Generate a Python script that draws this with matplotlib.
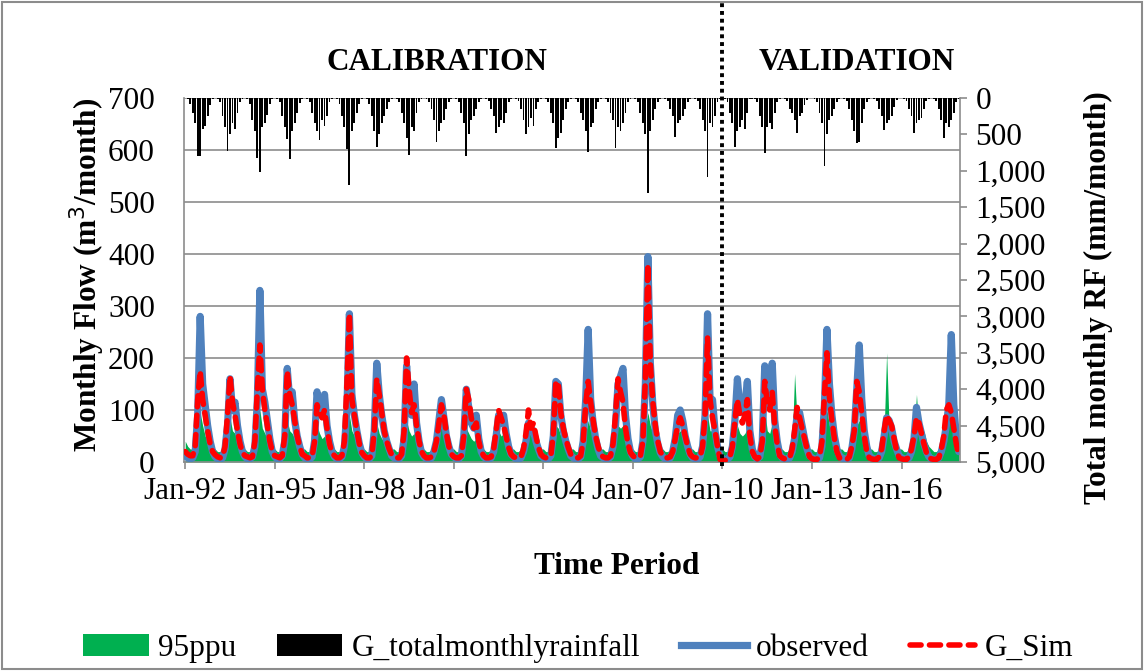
import numpy as np
import matplotlib.pyplot as plt
import matplotlib.transforms as mtransforms
from matplotlib.patches import Patch, Rectangle
from matplotlib.lines import Line2D

plt.rcParams['font.family'] = ['Liberation Serif', 'DejaVu Serif']

# ── data (Jan-92 .. Dec-17, one row per year, Jan..Dec) ─────────────────────
tick_labels = ["Jan-92", "Jan-95", "Jan-98", "Jan-01", "Jan-04",
               "Jan-07", "Jan-10", "Jan-13", "Jan-16"]

observed = [
    [12, 8, 6, 8, 20, 90, 280, 150, 110, 70, 40, 20],
    [10, 6, 5, 8, 25, 70, 160, 100, 115, 70, 40, 20],
    [10, 6, 6, 10, 30, 120, 330, 140, 115, 80, 45, 20],
    [10, 6, 6, 12, 40, 180, 120, 135, 80, 50, 30, 15],
    [8, 6, 5, 10, 40, 135, 100, 90, 130, 70, 40, 20],
    [10, 6, 6, 10, 30, 100, 285, 130, 90, 60, 35, 18],
    [10, 6, 6, 12, 60, 190, 130, 90, 60, 40, 25, 12],
    [8, 6, 6, 12, 45, 185, 110, 90, 150, 75, 40, 18],
    [10, 6, 5, 8, 20, 40, 80, 120, 85, 50, 30, 15],
    [10, 6, 6, 12, 50, 140, 105, 75, 65, 90, 45, 20],
    [10, 6, 5, 8, 20, 50, 90, 75, 90, 55, 30, 15],
    [10, 6, 5, 8, 20, 40, 75, 65, 60, 40, 25, 12],
    [8, 6, 6, 12, 50, 155, 150, 90, 60, 40, 25, 12],
    [8, 6, 6, 10, 40, 120, 255, 120, 75, 45, 25, 12],
    [8, 6, 6, 10, 30, 70, 150, 165, 180, 90, 45, 20],
    [10, 6, 6, 10, 40, 150, 395, 190, 110, 60, 35, 18],
    [10, 6, 5, 8, 20, 45, 90, 100, 80, 50, 30, 15],
    [8, 6, 5, 10, 30, 90, 285, 120, 120, 60, 30, 12],
    [6, 5, 5, 10, 30, 80, 160, 105, 95, 110, 155, 60],
    [25, 10, 6, 10, 40, 185, 120, 110, 190, 80, 40, 15],
    [8, 6, 5, 8, 20, 45, 90, 95, 70, 45, 25, 12],
    [8, 6, 5, 8, 30, 110, 255, 150, 90, 50, 25, 12],
    [8, 6, 5, 8, 25, 60, 140, 225, 120, 60, 30, 12],
    [8, 6, 5, 8, 20, 50, 85, 80, 65, 40, 25, 12],
    [8, 6, 5, 8, 20, 45, 105, 75, 55, 35, 20, 10],
    [6, 5, 5, 8, 20, 40, 70, 110, 245, 110, 50, 20],
]

g_sim = [
    [20, 15, 12, 12, 30, 120, 175, 120, 90, 60, 35, 20],
    [14, 10, 8, 10, 30, 90, 165, 115, 90, 60, 35, 18],
    [12, 10, 8, 10, 40, 140, 225, 140, 100, 70, 40, 20],
    [12, 10, 8, 12, 50, 175, 130, 110, 80, 50, 30, 15],
    [12, 8, 8, 10, 40, 110, 95, 85, 100, 65, 35, 18],
    [12, 8, 8, 12, 40, 150, 285, 120, 90, 60, 35, 18],
    [12, 8, 8, 12, 60, 160, 130, 95, 60, 40, 25, 14],
    [10, 8, 8, 15, 60, 200, 140, 95, 110, 70, 40, 20],
    [12, 8, 8, 10, 20, 40, 75, 110, 90, 55, 30, 15],
    [10, 8, 8, 12, 50, 140, 120, 85, 65, 75, 40, 20],
    [12, 8, 8, 10, 25, 60, 100, 85, 70, 50, 28, 15],
    [10, 8, 8, 10, 25, 55, 100, 65, 75, 50, 28, 15],
    [10, 8, 8, 12, 55, 155, 150, 95, 65, 45, 28, 15],
    [10, 8, 8, 12, 40, 110, 155, 115, 80, 50, 30, 15],
    [10, 8, 8, 12, 35, 90, 160, 135, 115, 65, 35, 18],
    [12, 8, 8, 12, 40, 160, 380, 190, 115, 70, 40, 20],
    [12, 8, 8, 10, 20, 45, 70, 85, 70, 50, 30, 15],
    [10, 8, 8, 10, 30, 90, 240, 120, 85, 60, 30, 5],
    [3, 3, 5, 10, 30, 80, 120, 90, 75, 90, 120, 50],
    [20, 10, 6, 10, 40, 155, 115, 100, 135, 70, 35, 12],
    [8, 6, 5, 8, 25, 60, 105, 85, 65, 45, 25, 10],
    [6, 5, 5, 10, 40, 130, 210, 125, 80, 45, 20, 8],
    [6, 5, 5, 10, 30, 60, 155, 135, 95, 50, 20, 8],
    [6, 5, 5, 10, 25, 60, 90, 80, 70, 45, 22, 8],
    [6, 5, 5, 10, 25, 50, 85, 75, 55, 35, 18, 8],
    [6, 5, 5, 8, 25, 50, 100, 110, 95, 65, 35, 12],
]

ppu_upper = [
    [40, 30, 25, 25, 30, 60, 95, 70, 50, 40, 35, 30],
    [25, 20, 20, 25, 35, 55, 85, 60, 55, 40, 30, 25],
    [25, 20, 20, 25, 40, 70, 100, 65, 55, 45, 35, 25],
    [25, 20, 20, 25, 40, 80, 60, 55, 45, 35, 30, 25],
    [25, 20, 20, 25, 35, 70, 55, 45, 50, 40, 30, 25],
    [25, 20, 20, 25, 35, 60, 90, 60, 50, 40, 30, 25],
    [25, 20, 20, 25, 40, 75, 55, 45, 40, 35, 30, 25],
    [25, 20, 20, 25, 40, 80, 60, 50, 55, 40, 30, 25],
    [25, 20, 20, 25, 30, 40, 55, 70, 50, 40, 30, 25],
    [25, 20, 20, 25, 35, 65, 55, 45, 40, 45, 30, 25],
    [25, 20, 20, 25, 30, 45, 60, 50, 55, 40, 30, 25],
    [25, 20, 20, 25, 30, 45, 60, 50, 50, 40, 30, 25],
    [25, 20, 20, 25, 40, 70, 65, 50, 45, 40, 30, 25],
    [25, 20, 20, 25, 35, 55, 80, 60, 50, 40, 30, 25],
    [25, 20, 20, 25, 35, 50, 70, 65, 70, 45, 30, 25],
    [25, 20, 20, 25, 40, 65, 95, 70, 55, 45, 35, 25],
    [25, 20, 20, 25, 30, 40, 55, 60, 50, 40, 30, 25],
    [25, 20, 20, 25, 35, 55, 90, 60, 60, 45, 30, 25],
    [25, 20, 20, 25, 35, 50, 70, 55, 50, 55, 65, 35],
    [30, 25, 20, 25, 45, 100, 60, 55, 75, 45, 35, 25],
    [25, 20, 20, 25, 35, 170, 80, 60, 50, 40, 30, 25],
    [25, 20, 20, 25, 40, 70, 100, 70, 55, 45, 35, 25],
    [25, 20, 20, 25, 35, 50, 70, 80, 60, 45, 35, 25],
    [25, 20, 20, 25, 35, 60, 210, 70, 55, 45, 35, 25],
    [25, 20, 20, 25, 35, 55, 130, 60, 50, 60, 40, 30],
    [25, 20, 20, 25, 35, 50, 60, 135, 80, 55, 40, 30],
]

rainfall = [
    [5, 10, 80, 200, 350, 800, 790, 420, 380, 250, 90, 10],
    [5, 10, 60, 250, 400, 730, 500, 350, 420, 200, 60, 10],
    [5, 10, 80, 300, 450, 820, 1015, 400, 350, 230, 80, 10],
    [5, 10, 60, 250, 400, 560, 840, 450, 350, 200, 70, 10],
    [5, 10, 60, 200, 350, 450, 575, 300, 380, 250, 60, 10],
    [5, 15, 80, 250, 400, 700, 1195, 450, 350, 200, 80, 10],
    [5, 10, 80, 250, 450, 670, 500, 350, 250, 150, 60, 10],
    [5, 10, 60, 200, 350, 550, 780, 400, 450, 200, 60, 10],
    [5, 10, 50, 150, 300, 600, 450, 350, 300, 150, 50, 10],
    [5, 10, 50, 200, 350, 800, 500, 300, 250, 150, 50, 10],
    [5, 10, 40, 150, 250, 480, 400, 300, 350, 200, 50, 10],
    [5, 10, 40, 150, 300, 500, 400, 280, 380, 150, 50, 10],
    [5, 10, 50, 200, 350, 690, 550, 480, 300, 150, 60, 10],
    [5, 10, 50, 200, 300, 450, 740, 400, 350, 150, 50, 10],
    [5, 10, 50, 200, 300, 690, 400, 450, 350, 200, 60, 10],
    [5, 10, 60, 200, 350, 500, 1300, 450, 300, 150, 60, 10],
    [5, 10, 40, 150, 250, 540, 350, 300, 250, 150, 50, 10],
    [5, 10, 40, 150, 300, 450, 1085, 350, 400, 250, 60, 10],
    [5, 10, 50, 200, 350, 670, 450, 400, 300, 425, 200, 20],
    [10, 20, 60, 250, 400, 760, 400, 350, 420, 200, 60, 10],
    [5, 10, 40, 150, 200, 300, 480, 250, 200, 100, 30, 5],
    [5, 10, 50, 200, 350, 935, 500, 300, 250, 150, 50, 10],
    [5, 10, 40, 150, 300, 450, 620, 600, 350, 150, 50, 10],
    [5, 10, 40, 150, 250, 440, 350, 300, 250, 120, 30, 5],
    [5, 10, 40, 150, 250, 480, 350, 300, 280, 150, 40, 10],
    [5, 10, 40, 150, 300, 550, 350, 400, 300, 200, 50, 10],
]

obs = np.ravel(observed)
sim = np.ravel(g_sim)
ppu = np.ravel(ppu_upper)
rain = np.ravel(rainfall)
months = np.arange(len(obs))
split_month = 12 * (2010 - 1992)

GRID = "#8c8c8c"
FS = 22.5
SIM_DASH = (0, (2.0, 1.5))

# ── figure ───────────────────────────────────────────────────────────────────
fig = plt.figure(figsize=(11.44, 6.71), dpi=100)
ax = fig.add_axes([184 / 1144, 1 - 462 / 671, (960 - 184) / 1144, 364 / 671])

ax.fill_between(months, 0, ppu, color="#00B050", linewidth=0, zorder=2)
ax.plot(months, obs, color="#4F81BD", linewidth=5.2, solid_capstyle="round",
        solid_joinstyle="round", zorder=3)
ax.plot(months, sim, color="#FF0000", linewidth=4.0, linestyle=SIM_DASH,
        dash_capstyle="round", zorder=4)

ax.set_xlim(-0.5, len(obs) - 0.5)
ax.set_ylim(0, 700)
ax.set_yticks(range(0, 701, 100))
ax.set_xticks(np.arange(0, len(obs), 36))
ax.set_xticklabels(tick_labels)
ax.yaxis.grid(True, color=GRID, linewidth=1.2)
ax.set_axisbelow(True)
ax.tick_params(axis="y", length=0, pad=21, labelsize=FS)
ax.tick_params(axis="x", length=5, width=1.2, color=GRID, pad=6, labelsize=FS)
for side in ["top", "right"]:
    ax.spines[side].set_visible(False)
for side in ["left", "bottom"]:
    ax.spines[side].set_color(GRID)
    ax.spines[side].set_linewidth(1.2)

# rainfall on inverted secondary axis
ax2 = ax.twinx()
ax2.bar(months, rain, width=0.75, color="black", linewidth=0, zorder=2)
ax2.set_ylim(5000, 0)
ax2.set_yticks(range(0, 5001, 500))
ax2.set_yticklabels([f"{v:,}" for v in range(0, 5001, 500)])
ax2.tick_params(axis="y", length=5, width=1.2, color=GRID, pad=6, labelsize=FS)
for side in ["top", "left", "bottom"]:
    ax2.spines[side].set_visible(False)
ax2.spines["right"].set_color(GRID)
ax2.spines["right"].set_linewidth(1.2)

# calibration / validation divider
trans = mtransforms.blended_transform_factory(ax.transData, ax.transAxes)
ax.plot([split_month, split_month], [-0.01, 1.27], transform=trans, color="black",
        linewidth=2.8, linestyle=(0, (1, 1)), clip_on=False, zorder=6)

fig.text(437 / 1144, 1 - 62 / 671, "CALIBRATION", ha="center", va="center",
         fontsize=FS, fontweight="bold")
fig.text(857 / 1144, 1 - 62 / 671, "VALIDATION", ha="center", va="center",
         fontsize=FS, fontweight="bold")
fig.text(617 / 1144, 1 - 567 / 671, "Time Period", ha="center", va="center",
         fontsize=FS, fontweight="bold")
fig.text(87 / 1144, 1 - 275 / 671, "Monthly Flow (m$^3$/month)", ha="center",
         va="center", rotation=90, fontsize=FS, fontweight="bold")
fig.text(1098 / 1144, 1 - 298 / 671, "Total monthly RF (mm/month)", ha="center",
         va="center", rotation=90, fontsize=FS, fontweight="bold")

handles = [
    Patch(facecolor="#00B050", edgecolor="none"),
    Patch(facecolor="black", edgecolor="none"),
    Line2D([], [], color="#4F81BD", linewidth=5.2),
    Line2D([], [], color="#FF0000", linewidth=4.0, linestyle=SIM_DASH,
           dash_capstyle="round"),
]
fig.legend(handles, ["95ppu", "G_totalmonthlyrainfall", "observed", "G_Sim"],
           loc="center", bbox_to_anchor=(578 / 1144, 1 - 648 / 671), ncol=4,
           frameon=False, fontsize=FS, handlelength=2.1, handleheight=0.7,
           handletextpad=0.3, columnspacing=1.3)

fig.patches.append(Rectangle((0.002, 0.003), 0.996, 0.994, transform=fig.transFigure,
                             fill=False, edgecolor="#8c8c8c", linewidth=1.5))

fig.savefig("out.png", dpi=100)
